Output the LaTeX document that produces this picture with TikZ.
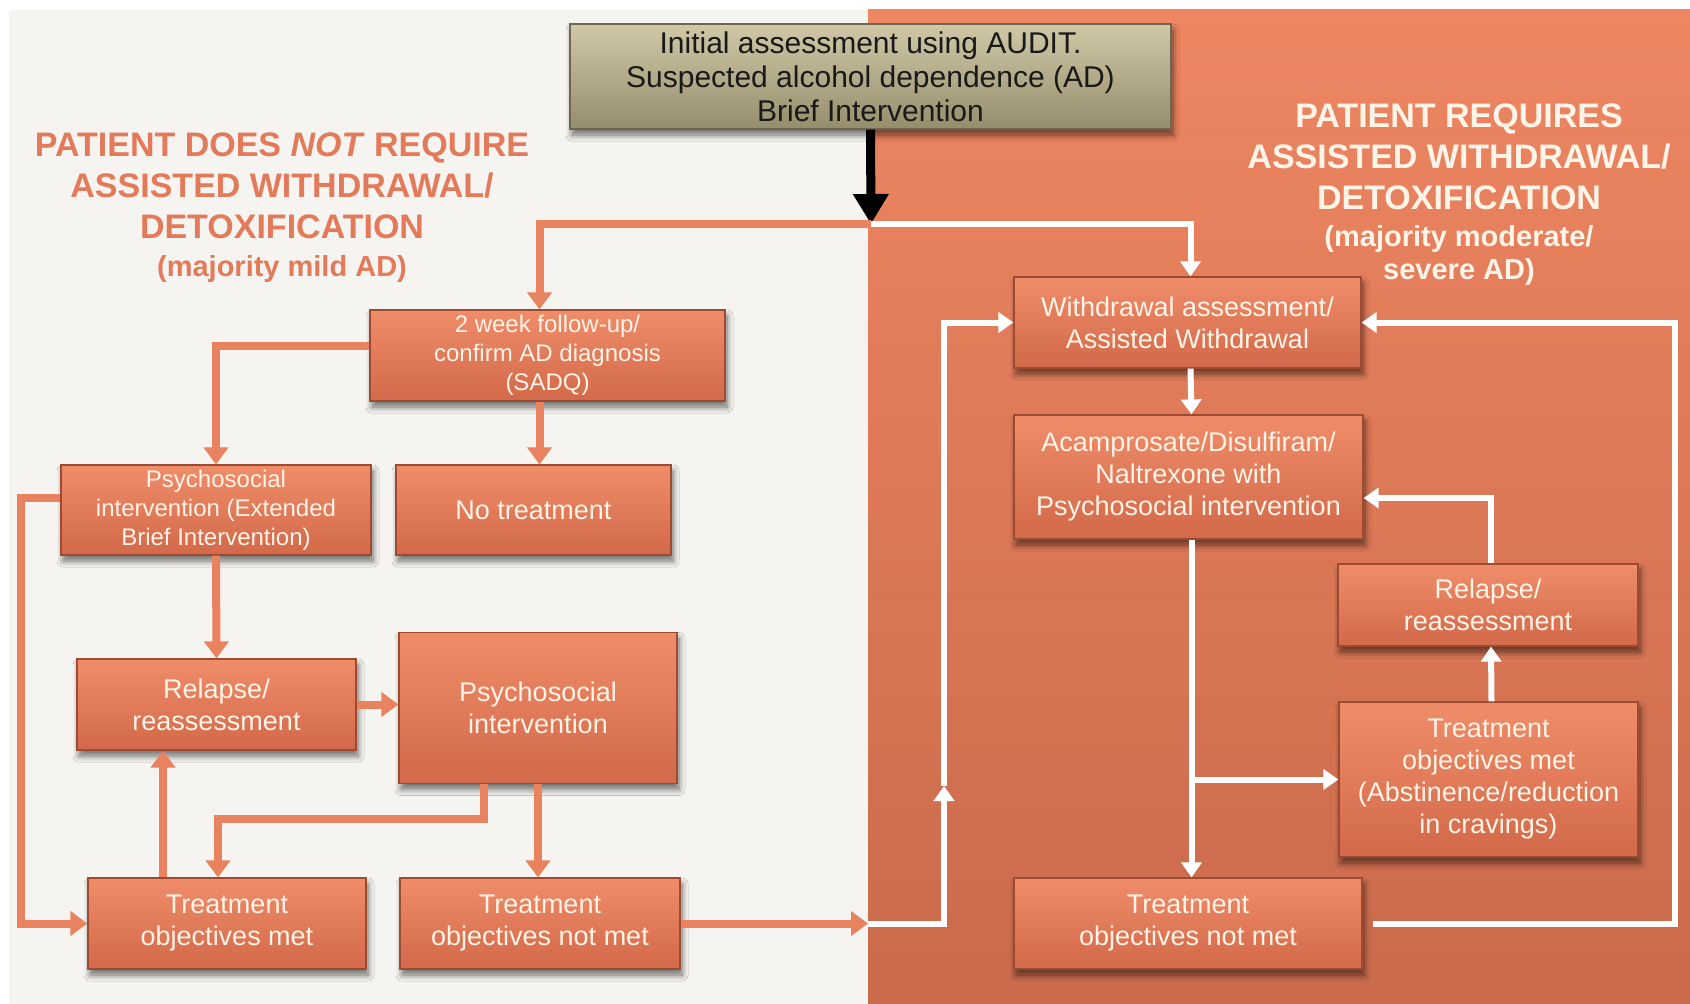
\documentclass[tikz,border=0pt]{standalone}
\usepackage{fontspec}
\setmainfont{Liberation Sans}
\usetikzlibrary{arrows.meta,shadows,shadows.blur}
\definecolor{panelL}{HTML}{F5F4F0}
\definecolor{panelRtop}{HTML}{EE8662}
\definecolor{panelRbot}{HTML}{C96A4B}
\definecolor{boxtop}{HTML}{F08D69}
\definecolor{boxbot}{HTML}{D2694A}
\definecolor{boxedge}{HTML}{9C4A31}
\definecolor{linkL}{HTML}{E8825F}
\definecolor{headL}{HTML}{E37A5A}
\definecolor{cream}{HTML}{FFF4E8}
\definecolor{olivetop}{HTML}{D0C8A6}
\definecolor{olivebot}{HTML}{968D6C}
\definecolor{oliveedge}{HTML}{6E6650}
\begin{document}
\begin{tikzpicture}[x=1pt,y=-1pt,
  shad/.style={blur shadow={shadow xshift=2pt,shadow yshift=-6pt,shadow blur radius=6pt,shadow blur steps=8,shadow opacity=55}},
  box/.style={draw=boxedge, line width=1.2pt, top color=boxtop, bottom color=boxbot,
    text=cream, align=center, inner sep=0pt, shad,
    font=\fontsize{27}{32}\selectfont},
  smallbox/.style={box, font=\fontsize{24}{29}\selectfont},
  topbox/.style={draw=oliveedge, line width=1.2pt, top color=olivetop, bottom color=olivebot,
    text=black!90, align=center, inner sep=0pt, shad,
    font=\fontsize{30}{34}\selectfont},
  lnL/.style={draw=linkL, line width=8pt},
  lnR/.style={draw=white, line width=6pt},
  tipL/.style={-{Triangle[width=24pt,length=17pt]}},
  tipR/.style={-{Triangle[width=20pt,length=15pt]}},
  headL/.style={text=headL, align=center, font=\bfseries\fontsize{34}{41}\selectfont},
  headR/.style={text=cream, align=center, font=\bfseries\fontsize{34}{41}\selectfont},
]
\useasboundingbox (0,0) rectangle (1690,1004);
\fill[white] (0,0) rectangle (1690,1004);
\fill[panelL] (9,10) rectangle (868,1004);
\shade[top color=panelRtop, bottom color=panelRbot] (868,9) rectangle (1690,1004);

% headings
\node[headL] (hl) at (282,208) {PATIENT DOES \textit{NOT} REQUIRE\\ASSISTED WITHDRAWAL/\\DETOXIFICATION\\[-3pt]{\fontsize{29}{34}\selectfont (majority mild AD)}};
\node[headR] (hr) at (1459,195) {PATIENT REQUIRES\\ASSISTED WITHDRAWAL/\\DETOXIFICATION\\[-4pt]{\fontsize{29}{33}\selectfont (majority moderate/}\\[-8pt]{\fontsize{29}{33}\selectfont severe AD)}};

% top box
\node[topbox, minimum width=601pt, minimum height=105pt] (top) at (870.5,76.5)
  {Initial assessment using AUDIT.\\Suspected alcohol dependence (AD)\\Brief Intervention};
\coordinate (split) at (871,224);

% left boxes
\node[smallbox, minimum width=355pt, minimum height=91pt] (twoweek) at (547.5,355.5)
  {2 week follow-up/\\confirm AD diagnosis\\(SADQ)};
\node[smallbox, minimum width=310pt, minimum height=90pt] (psyext) at (216,510)
  {Psychosocial\\intervention (Extended\\Brief Intervention)};
\node[box, minimum width=275pt, minimum height=90pt] (notreat) at (533.5,510) {No treatment};
\node[box, minimum width=279pt, minimum height=91pt] (relL) at (216.5,704.5) {Relapse/\\reassessment};
\node[box, minimum width=278pt, minimum height=151pt] (psyint) at (538,708) {Psychosocial\\intervention};
\node[box, minimum width=278pt, minimum height=91pt] (tomL) at (227,923.5) {Treatment\\objectives met};
\node[box, minimum width=280pt, minimum height=91pt] (tnmL) at (540,923.5) {Treatment\\objectives not met};

% right boxes
\node[box, minimum width=347pt, minimum height=91pt] (wd) at (1187.5,322.5) {Withdrawal assessment/\\Assisted Withdrawal};
\node[box, minimum width=349pt, minimum height=124pt] (acam) at (1188.5,477) {Acamprosate/Disulfiram/\\Naltrexone with\\Psychosocial intervention};
\node[box, minimum width=300pt, minimum height=82pt] (relR) at (1488,605) {Relapse/\\reassessment};
\node[box, minimum width=299pt, minimum height=155pt] (tomR) at (1488.5,779.5) {Treatment\\objectives met\\(Abstinence/reduction\\in cravings)};
\node[box, minimum width=348pt, minimum height=91pt] (tnmR) at (1188,923.5) {Treatment\\objectives not met};

% black arrow
\draw[line width=9pt, -{Triangle[width=34pt,length=30pt]}] (top.south) -- (split);

% left connectors
\draw[lnL, tipL] (split) -| ([xshift=-8pt]twoweek.north);
\draw[lnL, tipL] ([yshift=10pt]twoweek.west) -| (psyext.north);
\draw[lnL, tipL] ([xshift=-8pt]twoweek.south) -- ([xshift=-8pt]twoweek.south |- notreat.north);
\draw[lnL, tipL] (psyext.south) -- (relL.north);
\draw[lnL, tipL] ([yshift=12pt]psyext.west) -- ++(-39,0) |- (tomL.west);
\draw[lnL, tipL] (relL.east) -- (psyint.west |- relL.east);
\draw[lnL, tipL] ([xshift=-54pt]psyint.south) -- ++(0,35) -| ([xshift=-9pt]tomL.north);
\draw[lnL, tipL] (psyint.south) -- (psyint.south |- tnmL.north);
\draw[lnL, tipL] ([xshift=-64pt]tomL.north) -- ([xshift=-64pt]tomL.north |- relL.south);
\coordinate (bnd) at (868,923.5);
\draw[lnL, tipL] (tnmL.east) -- (bnd);

% right connectors
\coordinate (mid) at (944,786);
\draw[lnR, tipR] (bnd) -| (mid);
\draw[lnR, tipR] (mid) |- (wd.west);
\draw[lnR, tipR] (split) -| ([xshift=3pt]wd.north);
\draw[lnR, tipR] ([xshift=3pt]wd.south) -- ([xshift=3pt]acam.north);
\draw[lnR, tipR] ([xshift=3pt]acam.south) -- ([xshift=3pt]acam.south |- tnmR.north);
\draw[lnR, tipR] ([xshift=3pt]acam.south |- tomR.west) -- (tomR.west);
\draw[lnR, tipR] ([xshift=3pt]tomR.north) -- ([xshift=3pt]relR.south);
\draw[lnR, tipR] ([xshift=3pt]relR.north) |- ([yshift=-21pt]acam.east);
\draw[lnR, tipR] ([xshift=10pt]tnmR.east) -- ++(302,0) |- (wd.east);
\end{tikzpicture}
\end{document}
